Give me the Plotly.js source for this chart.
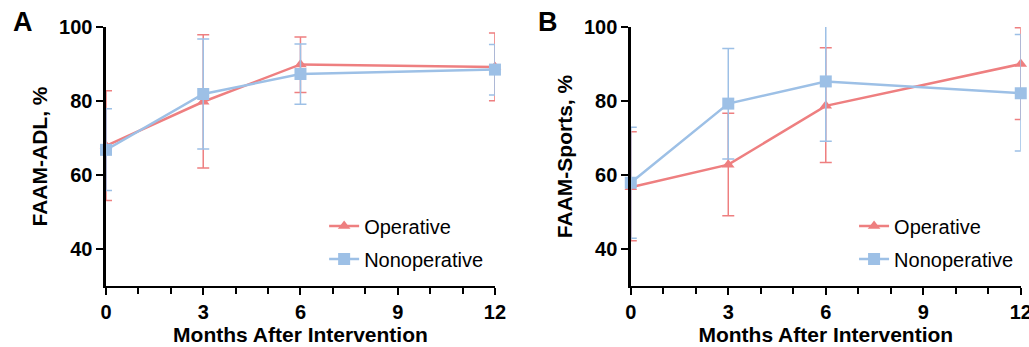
<!DOCTYPE html>
<html><head><meta charset="utf-8">
<script src="https://cdn.plot.ly/plotly-3.0.1.min.js"></script>
<style>html,body{margin:0;padding:0;background:#fff;}#chart{width:1029px;height:347px;}</style>
</head><body><div id="chart"></div>
<script>
const months = [0, 3, 6, 12];
const xTickVals = [0, 3, 6, 9, 12];
const yTickVals = [40, 60, 80, 100];

// Panel A: FAAM-ADL
const adlOperative = [67.9, 79.8, 89.9, 89.2];
const adlOperativeUp = [82.8, 97.9, 97.3, 98.4];
const adlOperativeLow = [53.1, 61.9, 82.3, 80.1];
const adlNonoperative = [66.8, 81.9, 87.3, 88.5];
const adlNonoperativeUp = [77.9, 96.8, 95.4, 95.3];
const adlNonoperativeLow = [55.8, 67.0, 79.1, 81.6];

// Panel B: FAAM-Sports
const sportsOperative = [56.7, 62.8, 78.7, 90.0];
const sportsOperativeUp = [71.7, 76.7, 94.4, 99.8];
const sportsOperativeLow = [42.2, 49.0, 63.4, 75.0];
const sportsNonoperative = [57.9, 79.3, 85.3, 82.1];
const sportsNonoperativeUp = [72.9, 94.2, 101.5, 98.0];
const sportsNonoperativeLow = [42.9, 64.3, 69.1, 66.5];

const RED = '#EE7F80';
const BLUE = '#9DC0E6';
const FONT = 'Liberation Sans, Arial, sans-serif';

function tr(x, y, up, low, name, color, symbol, xa, ya, leg, grp) {
  return {
    x: x, y: y, name: name, type: 'scatter', mode: 'lines+markers',
    xaxis: xa, yaxis: ya, legend: leg, legendgroup: grp, cliponaxis: false,
    line: {color: color, width: 2.5},
    marker: {color: color, symbol: symbol, size: symbol === 'square' ? 12 : 11},
    error_y: {type: 'data', symmetric: false,
      array: y.map((v, i) => up[i] - v),
      arrayminus: y.map((v, i) => v - low[i]),
      color: color, thickness: 1.5, width: 6}
  };
}

const data = [
  tr(months, adlOperative, adlOperativeUp, adlOperativeLow, 'Operative', RED, 'triangle-up', 'x', 'y', 'legend', 'a1'),
  tr(months, adlNonoperative, adlNonoperativeUp, adlNonoperativeLow, 'Nonoperative', BLUE, 'square', 'x', 'y', 'legend', 'a2'),
  tr(months, sportsOperative, sportsOperativeUp, sportsOperativeLow, 'Operative', RED, 'triangle-up', 'x2', 'y2', 'legend2', 'b1'),
  tr(months, sportsNonoperative, sportsNonoperativeUp, sportsNonoperativeLow, 'Nonoperative', BLUE, 'square', 'x2', 'y2', 'legend2', 'b2')
];

function xax(domain, anchor) {
  return {
    domain: domain, anchor: anchor, range: [0, 12], tickvals: xTickVals,
    showline: true, linecolor: '#000', linewidth: 2.5, showgrid: false, zeroline: false,
    ticks: 'outside', ticklen: 7, tickwidth: 2, tickcolor: '#000', ticklabeloverflow: 'allow',
    minor: {dtick: 1, ticks: 'outside', ticklen: 6, tickwidth: 2, tickcolor: '#000', showgrid: false},
    tickfont: {family: FONT, size: 20, color: '#000', weight: 'bold'},
    title: {text: '<b>Months After Intervention</b>', font: {family: FONT, size: 21, color: '#000'}, standoff: 0}
  };
}
function yax(title, anchor) {
  return {
    domain: [0.176, 0.922], anchor: anchor, range: [30, 100], tickvals: yTickVals,
    showline: true, linecolor: '#000', linewidth: 2.5, showgrid: false, zeroline: false,
    ticks: 'outside', ticklen: 7, tickwidth: 2, tickcolor: '#000',
    tickfont: {family: FONT, size: 20, color: '#000', weight: 'bold'},
    title: {text: '<b>' + title + '</b>', font: {family: FONT, size: 21, color: '#000'}, standoff: 6}
  };
}
function leg(x, y) {
  return {x: x, y: y, xanchor: 'left', yanchor: 'top', bgcolor: 'rgba(0,0,0,0)',
    font: {family: FONT, size: 20, color: '#000'}, traceorder: 'grouped', tracegroupgap: 4, itemwidth: 30};
}

const layout = {
  width: 1029, height: 347,
  margin: {l: 0, r: 0, t: 0, b: 0},
  paper_bgcolor: '#fff', plot_bgcolor: '#fff',
  showlegend: true,
  xaxis: xax([0.103, 0.481], 'y'),
  yaxis: yax('FAAM-ADL, %', 'x'),
  xaxis2: xax([0.613, 0.992], 'y2'),
  yaxis2: yax('FAAM-Sports, %', 'x2'),
  legend: leg(0.315, 0.405),
  legend2: leg(0.83, 0.405),
  annotations: [
    {text: '<b>A</b>', x: 11/1029, y: 1 - 22/347, xref: 'paper', yref: 'paper', xanchor: 'left', yanchor: 'middle', showarrow: false, font: {family: FONT, size: 27, color: '#000'}},
    {text: '<b>B</b>', x: 536/1029, y: 1 - 22/347, xref: 'paper', yref: 'paper', xanchor: 'left', yanchor: 'middle', showarrow: false, font: {family: FONT, size: 27, color: '#000'}}
  ]
};

Plotly.newPlot('chart', data, layout, {displayModeBar: false, staticPlot: true});
</script>
</body></html>
